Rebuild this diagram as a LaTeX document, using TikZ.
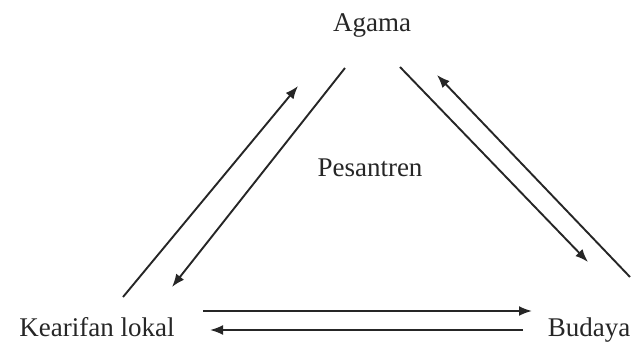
\documentclass[tikz,border=0pt]{standalone}
\usepackage{fontspec}
\setmainfont{Liberation Serif}
\usepackage{xcolor}
\usetikzlibrary{arrows.meta,positioning}
\definecolor{inkgray}{HTML}{262626}

\begin{document}
\begin{tikzpicture}[
  x=0.5pt, y=-0.5pt,
  >={Latex[length=6.5pt,width=5pt]},
  concept/.style={anchor=base, inner sep=0pt, text=inkgray, font=\fontsize{13.5}{16}\selectfont},
  flow/.style={->, draw=inkgray, line width=0.95pt}
]
  \useasboundingbox (0,0) rectangle (638,343);

  \node[concept] (agama) at (372,31) {Agama};
  \node[concept] (pesantren) at (370,176) {Pesantren};
  \node[concept] (kearifan) at (97,336) {Kearifan lokal};
  \node[concept] (budaya) at (589,336) {Budaya};

  % agama -- kearifan lokal
  \coordinate (ka1) at (123,297);
  \coordinate (ka2) at (298,86);
  \coordinate (ak1) at (345,68);
  \coordinate (ak2) at (172,287);
  \draw[flow] (ka1) -- (ka2);
  \draw[flow] (ak1) -- (ak2);

  % agama -- budaya
  \coordinate (ab1) at (400,67);
  \coordinate (ab2) at (588,262);
  \coordinate (ba1) at (630,277);
  \coordinate (ba2) at (437,75);
  \draw[flow] (ab1) -- (ab2);
  \draw[flow] (ba1) -- (ba2);

  % kearifan lokal -- budaya
  \coordinate (kb1) at (203,311);
  \coordinate (kb2) at (532,311);
  \coordinate (bk1) at (523,330);
  \coordinate (bk2) at (210,330);
  \draw[flow] (kb1) -- (kb2);
  \draw[flow] (bk1) -- (bk2);
\end{tikzpicture}
\end{document}
